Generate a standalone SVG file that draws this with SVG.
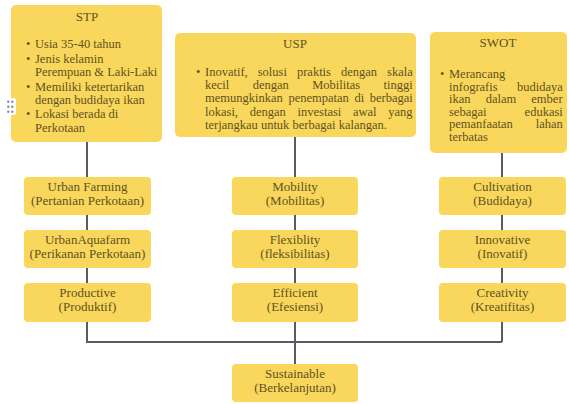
<svg xmlns="http://www.w3.org/2000/svg" width="569" height="404" viewBox="0 0 569 404">
<style>
.box{fill:#f9d75c;}
.t{font-family:"Liberation Serif","Times New Roman",serif;font-size:13px;fill:#5f5220;}
.c{text-anchor:middle;}
.s{font-size:12.5px;}
.ln{stroke:#575c63;stroke-width:2;fill:none;}
.dot{fill:#8a8f96;}
</style>
<rect width="569" height="404" fill="#ffffff"/>
<g id="connectors">
<path class="ln" d="M87 142V177M87 215V230M87 268V283M87 322V342H502M295 137V177M295 215V230M295 268V283M295 322V364M502 153V177M502 215V230M502 268V283M502 322V342"/>
</g>
<g id="stp">
<rect class="box" x="11" y="5" width="151" height="137" rx="5"/>
<text class="t c" x="87" y="21">STP</text>
<text class="t s"><tspan x="26" y="48">•</tspan><tspan x="35" y="48">Usia  35-40 tahun</tspan><tspan x="26" y="63">•</tspan><tspan x="35" y="63">Jenis kelamin</tspan><tspan x="35" y="76">Perempuan &amp; Laki-Laki</tspan><tspan x="26" y="91">•</tspan><tspan x="35" y="91">Memiliki ketertarikan</tspan><tspan x="35" y="104">dengan budidaya ikan</tspan><tspan x="26" y="118">•</tspan><tspan x="35" y="118">Lokasi berada di</tspan><tspan x="35" y="132">Perkotaan</tspan></text>
</g>
<g id="handle">
<rect x="5" y="98" width="11" height="17" rx="2.5" fill="#ffffff"/>
<circle class="dot" cx="8.3" cy="101.7" r="1.2"/><circle class="dot" cx="12.3" cy="101.7" r="1.2"/>
<circle class="dot" cx="8.3" cy="106.7" r="1.2"/><circle class="dot" cx="12.3" cy="106.7" r="1.2"/>
<circle class="dot" cx="8.3" cy="111.7" r="1.2"/><circle class="dot" cx="12.3" cy="111.7" r="1.2"/>
</g>
<g id="usp">
<rect class="box" x="175" y="33" width="241" height="104" rx="5"/>
<text class="t c" x="295" y="48">USP</text>
<text class="t s" x="196" y="76">•</text>
<text class="t s" x="205" y="76" word-spacing="6.9">Inovatif, solusi praktis dengan skala</text>
<text class="t s" x="205" y="89.2" word-spacing="20.3">kecil dengan Mobilitas tinggi</text>
<text class="t s" x="205" y="102.4" word-spacing="2.5">memungkinkan penempatan di berbagai</text>
<text class="t s" x="205" y="115.6" word-spacing="8.6">lokasi, dengan investasi awal yang</text>
<text class="t s" x="205" y="128.8">terjangkau untuk berbagai kalangan.</text>
</g>
<g id="swot">
<rect class="box" x="430" y="32" width="137" height="121" rx="5"/>
<text class="t c" x="498" y="47">SWOT</text>
<text class="t s" x="440" y="78">•</text>
<text class="t s" x="449" y="78">Merancang</text>
<text class="t s" x="449" y="90.6" word-spacing="16.2">infografis budidaya</text>
<text class="t s" x="449" y="103.2" word-spacing="12">ikan dalam ember</text>
<text class="t s" x="449" y="115.8" word-spacing="35">sebagai edukasi</text>
<text class="t s" x="449" y="128.4" word-spacing="19.7">pemanfaatan lahan</text>
<text class="t s" x="449" y="141">terbatas</text>
</g>
<g id="urban-farming">
<rect class="box" x="24" y="177" width="127" height="38" rx="4"/>
<text class="t c" x="87.5" y="191">Urban Farming</text>
<text class="t c" x="87.5" y="205">(Pertanian Perkotaan)</text>
</g>
<g id="urban-aquafarm">
<rect class="box" x="24" y="230" width="127" height="38" rx="4"/>
<text class="t c" x="87.5" y="244">UrbanAquafarm</text>
<text class="t c" x="87.5" y="258">(Perikanan Perkotaan)</text>
</g>
<g id="productive">
<rect class="box" x="24" y="283" width="127" height="39" rx="4"/>
<text class="t c" x="87.5" y="297">Productive</text>
<text class="t c" x="87.5" y="311">(Produktif)</text>
</g>
<g id="mobility">
<rect class="box" x="232" y="177" width="126" height="38" rx="4"/>
<text class="t c" x="295" y="191">Mobility</text>
<text class="t c" x="295" y="205">(Mobilitas)</text>
</g>
<g id="flexibility">
<rect class="box" x="232" y="230" width="126" height="38" rx="4"/>
<text class="t c" x="295" y="244">Flexiblity</text>
<text class="t c" x="295" y="258">(fleksibilitas)</text>
</g>
<g id="efficient">
<rect class="box" x="232" y="283" width="126" height="39" rx="4"/>
<text class="t c" x="295" y="297">Efficient</text>
<text class="t c" x="295" y="311">(Efesiensi)</text>
</g>
<g id="cultivation">
<rect class="box" x="439" y="177" width="127" height="38" rx="4"/>
<text class="t c" x="502.5" y="191">Cultivation</text>
<text class="t c" x="502.5" y="205">(Budidaya)</text>
</g>
<g id="innovative">
<rect class="box" x="439" y="230" width="127" height="38" rx="4"/>
<text class="t c" x="502.5" y="244">Innovative</text>
<text class="t c" x="502.5" y="258">(Inovatif)</text>
</g>
<g id="creativity">
<rect class="box" x="439" y="283" width="127" height="39" rx="4"/>
<text class="t c" x="502.5" y="297">Creativity</text>
<text class="t c" x="502.5" y="311">(Kreatifitas)</text>
</g>
<g id="sustainable">
<rect class="box" x="232" y="364" width="126" height="38" rx="4"/>
<text class="t c" x="295" y="378">Sustainable</text>
<text class="t c" x="295" y="392">(Berkelanjutan)</text>
</g>
</svg>
